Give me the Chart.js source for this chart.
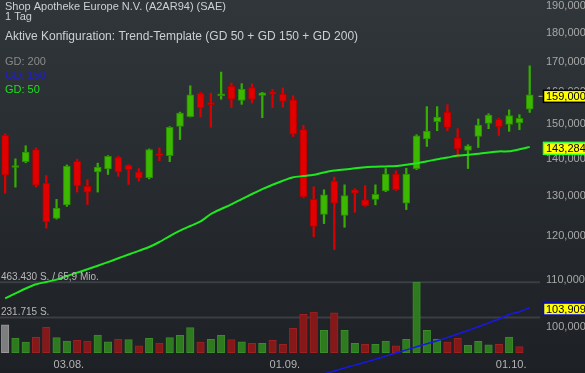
<!DOCTYPE html>
<html>
<head>
<meta charset="utf-8">
<script src="https://cdn.jsdelivr.net/npm/chart.js@4.4.1/dist/chart.umd.min.js"></script>
<style>
html,body{margin:0;padding:0;background:#262a2e;overflow:hidden}
#wrap{width:585px;height:373px;position:relative}
</style>
</head>
<body>
<div id="wrap"><canvas id="c"></canvas></div>
<script>
// ---- data ----
const days = ['24.07.','27.07.','28.07.','29.07.','30.07.','31.07.','03.08.','04.08.','05.08.','06.08.','07.08.',
  '10.08.','11.08.','12.08.','13.08.','14.08.','17.08.','18.08.','19.08.','20.08.','21.08.',
  '24.08.','25.08.','26.08.','27.08.','28.08.','31.08.','01.09.','02.09.','03.09.','04.09.',
  '07.09.','08.09.','09.09.','10.09.','11.09.','14.09.','15.09.','16.09.','17.09.','18.09.',
  '21.09.','22.09.','23.09.','24.09.','25.09.','28.09.','29.09.','30.09.','01.10.','02.10.','05.10.'];
const tickDays = ['03.08.','01.09.','01.10.'];
const opens  = [146.6,137.5,139.1,142.5,133.3,124.2,127.6,139.2,132.4,136.3,137.1,140.3,138.1,136.3,134.7,141.0,140.8,149.3,152.2,159.5,156.4,158.7,161.7,157.2,161.3,158.8,160.0,159.2,157.4,148.3,129.0,125.2,133.8,124.9,131.5,128.9,129.0,131.2,135.7,128.0,137.2,145.6,150.7,153.6,145.9,142.3,146.3,150.2,151.4,149.9,150.3,154.5];
const highs  = [147.1,139.9,143.6,143.0,135.3,129.0,138.2,139.8,134.2,138.7,140.8,140.6,138.3,137.2,142.7,143.0,149.2,153.6,161.9,159.8,159.5,166.4,162.8,162.6,162.6,159.8,160.8,161.2,158.7,149.6,132.3,131.5,134.9,132.8,131.8,132.6,132.8,137.2,136.6,137.3,146.8,155.3,155.3,155.9,148.6,143.9,151.5,153.1,151.7,154.3,152.8,168.5];
const lows   = [130.6,132.2,138.8,132.2,121.8,124.0,127.2,130.9,127.7,130.9,135.6,135.1,132.9,133.8,134.4,139.4,139.1,145.4,152.1,152.1,149.0,157.6,155.0,156.0,156.4,151.9,155.0,155.1,146.3,129.4,119.7,122.9,116.7,122.0,125.7,127.2,127.6,131.0,131.3,126.4,136.9,143.4,148.0,148.0,140.3,137.2,143.1,148.6,146.6,147.8,148.3,153.5];
const closes = [135.5,137.7,141.8,132.7,123.3,126.8,137.9,132.5,130.9,137.6,140.6,136.3,136.9,134.6,142.5,140.8,149.0,153.3,159.0,154.9,155.9,159.3,157.6,160.8,157.6,159.6,159.2,156.9,147.0,129.7,122.2,130.2,128.0,130.0,130.6,127.4,130.3,135.7,131.5,135.7,146.5,147.9,152.1,149.0,142.7,143.6,149.7,152.7,149.2,152.5,151.7,159.0];
const volumes = [184000,96600,70000,101000,167000,99000,77000,81000,77000,116000,72000,88000,86000,46000,94000,64000,99000,114000,165000,70000,88000,114000,86000,72000,61000,61000,81000,55000,160000,253000,268000,147000,263000,147000,62000,55000,55000,77000,46000,88000,463430,147000,90000,70000,95000,49000,75000,51000,55000,103000,40000,null];
const gd50 = [105.84,106.89,107.94,108.85,109.35,109.88,110.65,111.43,112.17,112.98,113.79,114.66,115.54,116.39,117.28,118.46,119.89,121.17,122.31,123.44,125.28,126.54,127.71,129.07,130.40,131.65,132.82,133.91,134.85,135.15,135.50,136.15,136.64,136.95,137.27,137.58,137.69,137.80,137.91,138.27,138.65,139.21,139.79,140.27,140.80,141.06,141.31,141.68,141.99,142.02,142.59,143.284];
const gd150 = [null,null,null,null,null,null,null,null,null,null,null,null,null,null,null,null,null,null,null,null,null,null,null,null,null,null,null,null,null,null,null,
  91.01,91.54,92.07,92.61,93.15,93.71,94.29,94.88,95.47,96.06,96.64,97.24,97.84,98.55,99.24,100.00,100.76,101.55,102.47,103.03,103.909];
const priceTicks = [100,110,120,130,140,150,160,170,180,190];
const titleText = 'Shop Apotheke Europe N.V. (A2AR94) (SAE)';
const periodText = '1 Tag';
const configText = 'Aktive Konfiguration: Trend-Template (GD 50 + GD 150 + GD 200)';
const turnoverText = '65,9 Mio.';

// ---- helpers ----
const FAM = '"Liberation Sans", Arial, sans-serif';
const FONT = '11px ' + FAM;
const fmtPrice = v => v.toFixed(3).replace('.', ',');
const fmtVol = v => String(Math.round(v)).replace(/\B(?=(\d{3})+(?!\d))/g, '.');
const idx = days.map((d, i) => i);
const isUp = i => closes[i] >= opens[i];
const maxVol = Math.max(...volumes.filter(v => v !== null));
const halfVol = maxVol / 2;

const bodyFill = idx.map(i => isUp(i) ? '#3cb800' : '#e00000');
const bodyBorder = idx.map(i => isUp(i) ? '#2b8c00' : '#b40000');
const wickColor = idx.map(i => isUp(i) ? '#36ad00' : '#d80000');
const volFill = idx.map(i => i === 0 ? '#7e7e7e' : (closes[i] >= closes[i-1] ? '#2e7a1e' : '#851818'));
const volBorder = idx.map(i => i === 0 ? '#989898' : (closes[i] >= closes[i-1] ? '#3b8b2b' : '#9a2222'));

const deco = {
  id: 'deco',
  beforeDraw(chart) {
    const {ctx, width, height} = chart;
    const g = ctx.createLinearGradient(0, 0, 0, height);
    g.addColorStop(0, '#30363a');
    g.addColorStop(1, '#1d2024');
    ctx.save();
    ctx.fillStyle = g;
    ctx.fillRect(0, 0, width, height);
    ctx.restore();
  },
  beforeDatasetsDraw(chart) {
    const {ctx, chartArea} = chart;
    const yv = chart.scales.yv;
    ctx.save();
    ctx.strokeStyle = '#3a3f44';
    ctx.lineWidth = 2;
    [maxVol, halfVol].forEach(v => {
      const y = yv.getPixelForValue(v);
      ctx.beginPath();
      ctx.moveTo(0, y);
      ctx.lineTo(chartArea.right, y);
      ctx.stroke();
    });
    ctx.restore();
  },
  afterDatasetsDraw(chart) {
    const {ctx} = chart;
    const x = chart.scales.x, y = chart.scales.y, yv = chart.scales.yv;
    ctx.save();
    ctx.font = FONT;
    ctx.textBaseline = 'alphabetic';
    ctx.textAlign = 'left';
    ctx.fillStyle = '#cdd0d2';
    ctx.fillText(titleText, 5, 9.5);
    ctx.fillText(periodText, 5, 20);
    ctx.font = '12px ' + FAM;
    ctx.fillText(configText, 5, 40);
    ctx.font = FONT;
    ctx.fillStyle = '#8a8a8a';
    ctx.fillText('GD: 200', 5, 65);
    ctx.fillStyle = '#2020c8';
    ctx.fillText('GD: 150', 5, 78.5);
    ctx.fillStyle = '#1ee01e';
    ctx.fillText('GD: 50', 5, 92.5);

    // volume labels
    ctx.font = '10px ' + FAM;
    ctx.fillStyle = '#b8b8b8';
    ctx.fillText(fmtVol(maxVol) + ' S. / ' + turnoverText, 1, yv.getPixelForValue(maxVol) - 2);
    ctx.fillText(fmtVol(halfVol) + ' S.', 1, yv.getPixelForValue(halfVol) - 2);
    ctx.font = FONT;

    // x labels
    ctx.textAlign = 'center';
    ctx.fillStyle = '#b4b4b4';
    tickDays.forEach(d => {
      const i = days.indexOf(d);
      ctx.fillText(d, x.getPixelForValue(i) + 2, 368);
    });

    // price labels
    ctx.textAlign = 'left';
    ctx.textBaseline = 'middle';
    ctx.fillStyle = '#a8a8a8';
    priceTicks.forEach(v => {
      ctx.fillText(fmtPrice(v), 546, y.getPixelForValue(v) + 0.5);
    });

    // value boxes
    const last = idx.length - 1;
    const boxes = [
      {v: gd150[last], border: '#0000ff', lw: 1.5},
      {v: gd50[last], border: '#33ff33', lw: 1.5},
      {v: closes[last], border: '#000000', lw: 1.5, dash: true}
    ];
    boxes.forEach(b => {
      const cy = y.getPixelForValue(b.v) + 1.5;
      ctx.fillStyle = '#ffff00';
      ctx.fillRect(543.5, cy - 6, 50, 12);
      ctx.strokeStyle = b.border;
      ctx.lineWidth = b.lw;
      ctx.strokeRect(543.5, cy - 6, 50, 12);
      if (b.dash) {
        ctx.strokeStyle = '#a0a0a0';
        ctx.lineWidth = 1;
        ctx.beginPath();
        ctx.moveTo(538.5, cy);
        ctx.lineTo(542.5, cy);
        ctx.stroke();
      }
      ctx.fillStyle = '#000000';
      ctx.fillText(fmtPrice(b.v), 546, cy + 0.5);
    });
    ctx.restore();
  }
};

new Chart(document.getElementById('c'), {
  type: 'bar',
  data: {
    datasets: [
      {
        type: 'line', label: 'GD 150', yAxisID: 'y', order: 0,
        data: idx.map(i => ({x: i, y: gd150[i]})),
        borderColor: '#1818e6', borderWidth: 1.5, pointRadius: 0, tension: 0.2, fill: false
      },
      {
        type: 'line', label: 'GD 50', yAxisID: 'y', order: 0,
        data: idx.map(i => ({x: i, y: gd50[i]})),
        borderColor: '#1fe81f', borderWidth: 2, pointRadius: 0, tension: 0.2, fill: false
      },
      {
        label: 'Body', yAxisID: 'y', order: 1, grouped: false,
        data: idx.map(i => ({x: i, y: [opens[i], closes[i]]})),
        backgroundColor: bodyFill, borderColor: bodyBorder, borderWidth: 1, borderSkipped: false,
        maxBarThickness: 7, categoryPercentage: 1, barPercentage: 1, minBarLength: 2
      },
      {
        label: 'Wick', yAxisID: 'y', order: 2, grouped: false,
        data: idx.map(i => ({x: i, y: [lows[i], highs[i]]})),
        backgroundColor: wickColor, borderWidth: 0,
        maxBarThickness: 1.6, categoryPercentage: 1, barPercentage: 1
      },
      {
        label: 'Volumen', yAxisID: 'yv', order: 3, grouped: false,
        data: idx.map(i => ({x: i, y: volumes[i]})),
        backgroundColor: volFill, borderColor: volBorder, borderWidth: 1, borderSkipped: false,
        maxBarThickness: 7.5, categoryPercentage: 1, barPercentage: 1
      }
    ]
  },
  options: {
    responsive: true,
    maintainAspectRatio: false,
    animation: false,
    devicePixelRatio: 1,
    layout: {padding: {left: 0, right: 45, top: 0, bottom: 0}},
    plugins: {legend: {display: false}, tooltip: {enabled: false}},
    scales: {
      x: {type: 'linear', min: -0.5, max: 52, bounds: 'data', display: false, offset: false},
      y: {type: 'logarithmic', min: 91.16, max: 192.2, bounds: 'data', display: false},
      yv: {type: 'linear', position: 'left', min: -maxVol * 0.2884, max: maxVol * 5.01, bounds: 'data', display: false}
    }
  },
  plugins: [deco]
});
</script>
</body>
</html>
